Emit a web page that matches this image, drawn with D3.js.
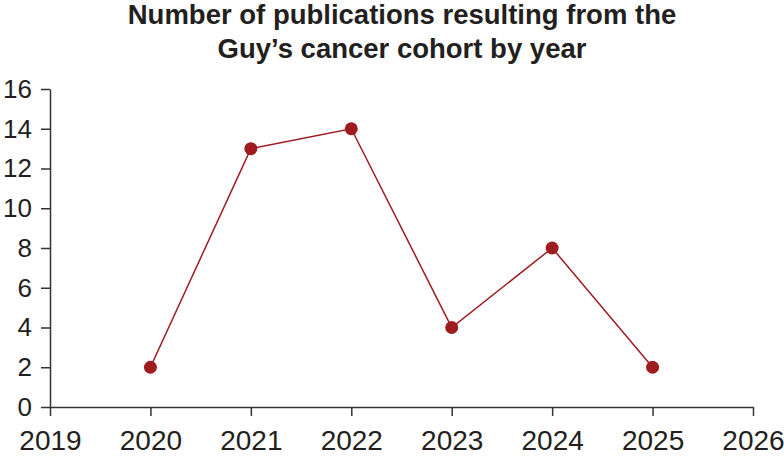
<!DOCTYPE html>
<html>
<head>
<meta charset="utf-8">
<script src="https://cdn.jsdelivr.net/npm/d3@7"></script>
<style>
  body { margin: 0; background: #fff; }
  text { font-family: "Liberation Sans", Arial, sans-serif; fill: #231f20; }
</style>
</head>
<body>
<div id="chart-container"></div>
<script>
const years = [2020, 2021, 2022, 2023, 2024, 2025];
const publications = [2, 13, 14, 4, 8, 2];
const xTicks = [2019, 2020, 2021, 2022, 2023, 2024, 2025, 2026];
const yTicks = [0, 2, 4, 6, 8, 10, 12, 14, 16];
const titleLines = ["Number of publications resulting from the", "Guy\u2019s cancer cohort by year"];

const w = 784, h = 460;
const margin = {top: 89, right: 31, bottom: 53, left: 50};
const lineColor = "#9e1b20";
const axisColor = "#333";

const svg = d3.select("#chart-container").append("svg")
  .attr("width", w).attr("height", h);

const x = d3.scaleLinear().domain([2019, 2026]).range([margin.left, w - margin.right]);
const y = d3.scaleLinear().domain([0, 16]).range([h - margin.bottom, margin.top]);

// title
svg.selectAll(".title").data(titleLines).enter().append("text")
  .attr("class", "title")
  .attr("x", 402)
  .attr("y", (d, i) => 24 + i * 34)
  .attr("text-anchor", "middle")
  .style("font-size", "27.5px")
  .style("font-weight", "bold")
  .text(d => d);

// axes
const xAxis = d3.axisBottom(x).tickValues(xTicks).tickFormat(d3.format("d"))
  .tickSizeInner(9).tickSizeOuter(0).tickPadding(14);
const yAxis = d3.axisLeft(y).tickValues(yTicks)
  .tickSizeInner(9).tickSizeOuter(0).tickPadding(9);

const gx = svg.append("g").attr("transform", "translate(0," + (h - margin.bottom) + ")").call(xAxis);
const gy = svg.append("g").attr("transform", "translate(" + margin.left + ",0)").call(yAxis);

gx.selectAll("text").style("font-size", "28px").attr("fill", "#231f20");
gy.selectAll("text").style("font-size", "26px").attr("fill", "#231f20");
svg.selectAll(".domain, .tick line").attr("stroke", axisColor).attr("stroke-width", 1.5);

// line + points
const pts = years.map((yr, i) => ({year: yr, value: publications[i]}));
svg.append("path").datum(pts)
  .attr("fill", "none")
  .attr("stroke", lineColor)
  .attr("stroke-width", 1.5)
  .attr("d", d3.line().x(d => x(d.year)).y(d => y(d.value)));

svg.selectAll(".dot").data(pts).enter().append("circle")
  .attr("class", "dot")
  .attr("cx", d => x(d.year))
  .attr("cy", d => y(d.value))
  .attr("r", 6.5)
  .attr("fill", lineColor);
</script>
</body>
</html>
